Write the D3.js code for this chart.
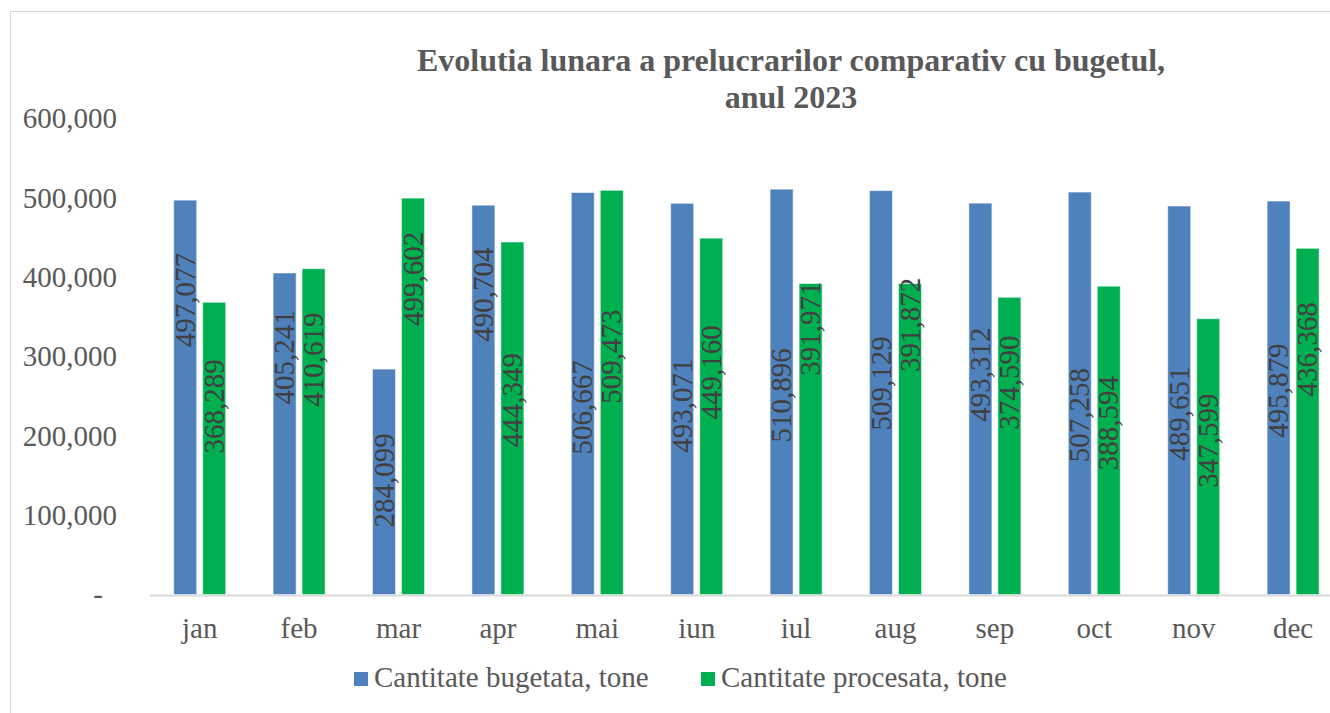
<!DOCTYPE html>
<html>
<head>
<meta charset="utf-8">
<script src="https://cdn.jsdelivr.net/npm/d3@7"></script>
<style>
  body { margin: 0; background: #fff; }
  svg { display: block; }
</style>
</head>
<body>
<script>
// date
const months = ["jan", "feb", "mar", "apr", "mai", "iun", "iul", "aug", "sep", "oct", "nov", "dec"];
const budgeted = [497077, 405241, 284099, 490704, 506667, 493071, 510896, 509129, 493312, 507258, 489651, 495879];
const processed = [368289, 410619, 499602, 444349, 509473, 449160, 391971, 391872, 374590, 388594, 347599, 436368];
// unde stau etichetele (in tone, pe axa y)
const budgetedLabelAt = [371000, 299000, 144000, 378000, 236000, 238000, 251000, 266000, 277000, 226000, 228000, 257000];
const processedLabelAt = [237000, 296000, 398000, 245000, 300000, 280000, 335000, 340000, 267000, 216000, 194000, 309000];
const seriesNames = ["Cantitate bugetata, tone", "Cantitate procesata, tone"];
const yTicks = [0, 100000, 200000, 300000, 400000, 500000, 600000];
const colors = ["#4F81BD", "#00B050"];

const FONT = "'Liberation Serif', 'Times New Roman', serif";
const width = 1330, height = 713;
const margin = { top: 118.5, left: 150, bottom: 118.5 };

const svg = d3.select("body").append("svg")
    .attr("width", width)
    .attr("height", height);

// chenarul graficului
svg.append("rect")
    .attr("x", 10.5).attr("y", 11.5)
    .attr("width", width).attr("height", height)
    .attr("fill", "none")
    .attr("stroke", "#d9d9d9");

const x0 = d3.scaleBand()
    .domain(months)
    .range([margin.left, margin.left + 12 * 99.4])
    .padding(0);

const x1 = d3.scaleBand()
    .domain([0, 1])
    .range([0, x0.bandwidth()])
    .paddingInner(0.207)
    .paddingOuter(0.817);

const y = d3.scaleLinear()
    .domain([0, 600000])
    .range([594.5, margin.top]);

const fmt = d3.format(",");

// axa y
const yAxis = svg.append("g")
    .attr("transform", "translate(117,0)")
    .call(d3.axisLeft(y).tickValues(yTicks).tickSize(0).tickPadding(0)
        .tickFormat(d => d === 0 ? "-" : fmt(d)));
yAxis.select(".domain").remove();
yAxis.selectAll("text")
    .style("font-family", FONT)
    .style("font-size", "29px")
    .attr("fill", "#595959")
    .attr("dy", "0.32em")
    .attr("dx", d => d === 0 ? -14 : 0);

// axa x
svg.append("line")
    .attr("x1", margin.left).attr("x2", width)
    .attr("y1", y(0) + 1).attr("y2", y(0) + 1)
    .attr("stroke", "#d9d9d9")
    .attr("stroke-width", 2);

const xAxis = svg.append("g")
    .attr("transform", "translate(0," + y(0) + ")")
    .call(d3.axisBottom(x0).tickSize(0).tickPadding(0));
xAxis.select(".domain").remove();
xAxis.selectAll("text")
    .style("font-family", FONT)
    .style("font-size", "29px")
    .attr("fill", "#595959")
    .attr("dy", null)
    .attr("y", 43);

const rows = months.map((m, i) => ({
    month: m,
    values: [budgeted[i], processed[i]],
    labelAt: [budgetedLabelAt[i], processedLabelAt[i]]
}));

const groups = svg.selectAll(".month")
    .data(rows)
    .enter()
    .append("g")
    .attr("class", "month")
    .attr("transform", d => "translate(" + x0(d.month) + ",0)");

groups.selectAll("rect")
    .data(d => d.values.map((v, k) => ({ k: k, v: v })))
    .enter()
    .append("rect")
    .attr("x", d => x1(d.k))
    .attr("y", d => y(d.v))
    .attr("width", x1.bandwidth())
    .attr("height", d => y(0) - y(d.v))
    .attr("fill", d => colors[d.k])
    .attr("stroke", "#ffffff")
    .attr("stroke-opacity", 0.5)
    .attr("stroke-width", 1);

// etichete verticale
groups.selectAll(".lbl")
    .data(d => d.values.map((v, k) => ({ k: k, v: v, at: d.labelAt[k] })))
    .enter()
    .append("text")
    .attr("class", "lbl")
    .attr("transform", d => "translate(" + (x1(d.k) + x1.bandwidth() / 2) + "," + y(d.at) + ") rotate(-90)")
    .attr("text-anchor", "middle")
    .attr("dy", "0.33em")
    .style("font-family", FONT)
    .style("font-size", "29px")
    .attr("fill", "#404040")
    .text(d => fmt(d.v));

// titlu
const title = svg.append("text")
    .attr("text-anchor", "middle")
    .style("font-family", FONT)
    .style("font-size", "32px")
    .style("font-weight", "bold")
    .attr("fill", "#595959");
title.append("tspan").attr("x", 791).attr("y", 71)
    .text("Evolutia lunara a prelucrarilor comparativ cu bugetul,");
title.append("tspan").attr("x", 791).attr("y", 108)
    .text("anul 2023");

// legenda
const legendX = [354, 701];
const legend = svg.selectAll(".leg")
    .data(seriesNames)
    .enter()
    .append("g")
    .attr("class", "leg")
    .attr("transform", (d, i) => "translate(" + legendX[i] + ",672)");
legend.append("rect")
    .attr("width", 14).attr("height", 14)
    .attr("fill", (d, i) => colors[i]);
legend.append("text")
    .attr("x", 20).attr("y", 15)
    .style("font-family", FONT)
    .style("font-size", "29px")
    .attr("fill", "#595959")
    .text(d => d);
</script>
</body>
</html>
